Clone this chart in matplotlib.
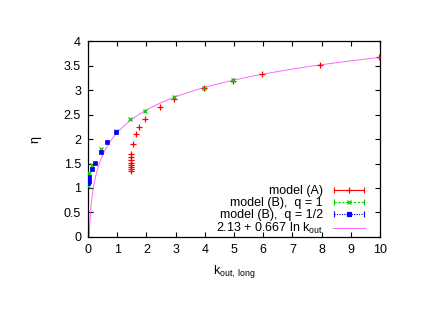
import numpy as np
import matplotlib
matplotlib.use("Agg")
import matplotlib.pyplot as plt
from matplotlib.lines import Line2D
from matplotlib.legend_handler import HandlerLine2D, HandlerBase

plt.rcParams['font.family'] = ['Liberation Sans', 'DejaVu Sans']
plt.rcParams['mathtext.fontset'] = 'custom'
plt.rcParams['mathtext.rm'] = 'Liberation Sans'
plt.rcParams['mathtext.it'] = 'Liberation Sans'
plt.rcParams['font.size'] = 9

# model (A)
xa = [1.47, 1.47, 1.47, 1.47, 1.47, 1.47, 1.47, 1.47, 1.55, 1.65, 1.75, 1.95,
      2.46, 2.96, 3.96, 4.96, 5.96, 7.96, 9.98]
ya = [1.35, 1.39, 1.43, 1.47, 1.52, 1.57, 1.63, 1.70, 1.90, 2.10, 2.24, 2.41,
      2.66, 2.82, 3.04, 3.19, 3.33, 3.52, 3.68]
# model (B), q = 1
xb1 = [0.0, 0.02, 0.03, 0.13, 0.43, 0.95, 1.45, 1.95, 2.96, 3.96, 4.96]
yb1 = [1.04, 1.12, 1.30, 1.46, 1.80, 2.17, 2.41, 2.58, 2.86, 3.05, 3.20]
# model (B), q = 1/2
xb2 = [0.0, 0.02, 0.05, 0.13, 0.24, 0.45, 0.64, 0.95]
yb2 = [1.10, 1.15, 1.23, 1.38, 1.52, 1.74, 1.93, 2.14]
# fit
fit_a, fit_b = 2.13, 0.667

fig = plt.figure(figsize=(4.4, 3.11), dpi=100)
ax = fig.add_axes([0.2, 0.238, 0.6636, 0.63])

red, green, blue, mag = '#ff0000', '#00cc00', '#0000ff', '#ff66ff'

ax.plot(xa, ya, ls='none', marker='+', ms=4, mew=0.9, color=red, zorder=3)
ax.plot(xb1, yb1, ls='none', marker='x', ms=3.2, mew=0.9, color=green, zorder=3)
ax.plot(xb2, yb2, ls='none', marker='s', ms=3.0, mew=0.5, color=blue, zorder=3)
xf = np.linspace(0.001, 10, 2000)
ax.plot(xf, fit_a + fit_b * np.log(xf), color=mag, lw=0.7, zorder=2)

ax.set_xlim(0, 10)
ax.set_ylim(0, 4)
ax.set_xticks(range(0, 11))
ax.set_yticks(np.arange(0, 4.01, 0.5))
ax.set_yticklabels(['0', '0.5', '1', '1.5', '2', '2.5', '3', '3.5', '4'])
ax.tick_params(direction='in', top=True, right=True, length=3.5, width=0.8, pad=5)
for s in ax.spines.values():
    s.set_linewidth(0.9)

ax.set_xlabel(r'k$_{\mathrm{out,\ long}}$', labelpad=5)
ax.set_ylabel('η', labelpad=16)


class HandlerOverlay(HandlerBase):
    def create_artists(self, legend, orig_handle, xdescent, ydescent,
                       width, height, fontsize, trans):
        arts = []
        hm = legend.get_legend_handler_map()
        for h in orig_handle:
            handler = legend.get_legend_handler(hm, h)
            arts.extend(handler.create_artists(legend, h, xdescent, ydescent,
                                               width, height, fontsize, trans))
        return arts


def series_handle(color, ls, marker, ms):
    l1 = Line2D([], [], color=color, ls=ls, lw=0.8, marker='|', ms=4, mew=0.8)
    l2 = Line2D([], [], color=color, ls='none', marker=marker, ms=ms, mew=0.9)
    return l1, l2

ha = series_handle(red, '-', '+', 4)
hb1 = series_handle(green, (0, (2, 1.5)), 'x', 3.2)
hb2 = series_handle(blue, (0, (1, 1.2)), 's', 3.0)
hf = Line2D([], [], color=mag, lw=0.7)
hmap = {}
for l1, l2 in (ha, hb1, hb2):
    hmap[l1] = HandlerLine2D(numpoints=2, marker_pad=0.1)
    hmap[l2] = HandlerLine2D(numpoints=1)
hmap[tuple] = HandlerOverlay()
leg = ax.legend([ha, hb1, hb2, hf],
                ['model (A)', 'model (B),  q = 1', 'model (B),  q = 1/2',
                 r'2.13 + 0.667 ln k$_{\mathrm{out}}$'],
                handler_map=hmap, loc='lower right', frameon=False,
                markerfirst=False, handlelength=2.6, handletextpad=0.8,
                labelspacing=0.0, borderaxespad=0.0, borderpad=0.0,
                bbox_to_anchor=(0.95, 0.005))

fig.savefig('out.png', dpi=100)
